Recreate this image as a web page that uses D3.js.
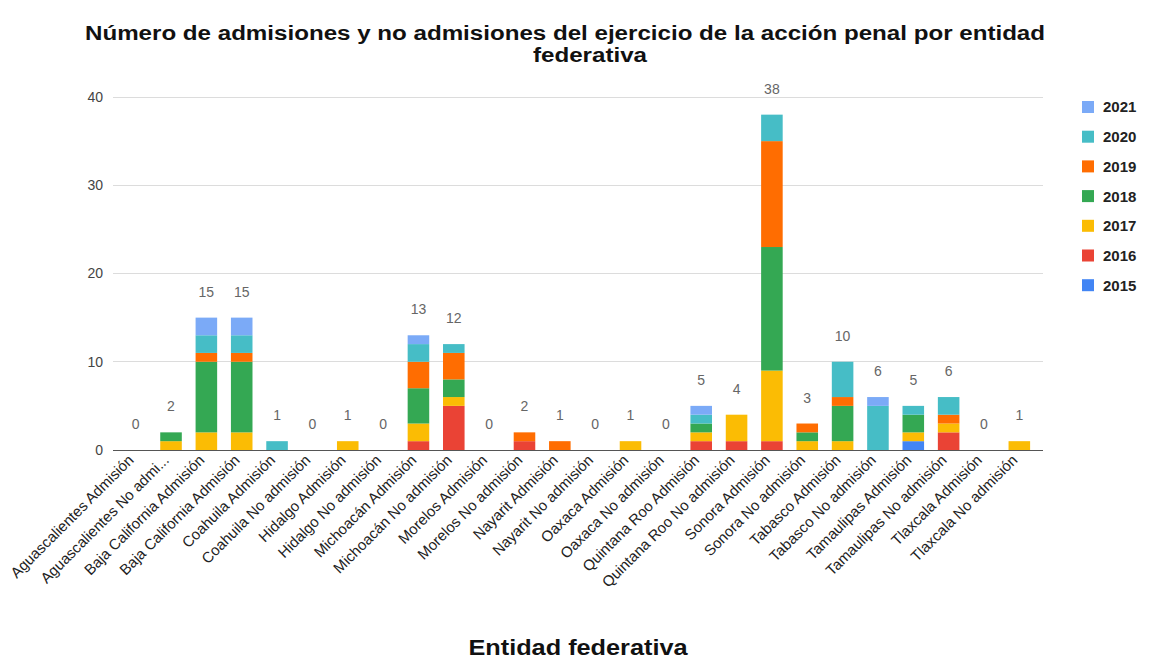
<!DOCTYPE html>
<html>
<head>
<meta charset="utf-8">
<script src="https://cdn.jsdelivr.net/npm/d3@7"></script>
<style>
  body { margin: 0; background: #fff; }
  text { font-family: Arial, "Liberation Sans", sans-serif; }
</style>
</head>
<body>
<div id="chart"></div>
<script>
/* ---------- data ---------- */
const categories = [
  'Aguascalientes Admisión', 'Aguascalientes No admi...', 'Baja California Admisión',
  'Baja California Admisión', 'Coahuila Admisión', 'Coahuila No admisión',
  'Hidalgo Admisión', 'Hidalgo No admisión', 'Michoacán Admisión',
  'Michoacán No admisión', 'Morelos Admisión', 'Morelos No admisión',
  'Nayarit Admisión', 'Nayarit No admisión', 'Oaxaca Admisión',
  'Oaxaca No admisión', 'Quintana Roo Admisión', 'Quintana Roo No admisión',
  'Sonora Admisión', 'Sonora No admisión', 'Tabasco Admisión',
  'Tabasco No admisión', 'Tamaulipas Admisión', 'Tamaulipas No admisión',
  'Tlaxcala Admisión', 'Tlaxcala No admisión'
];
const years = ['2015', '2016', '2017', '2018', '2019', '2020', '2021'];

const v2015 = [0,0,0,0,0,0,0,0,0,0,0,0,0,0,0,0,0,0,0,0,0,0,1,0,0,0];
const v2016 = [0,0,0,0,0,0,0,0,1,5,0,1,0,0,0,0,1,1,1,0,0,0,0,2,0,0];
const v2017 = [0,1,2,2,0,0,1,0,2,1,0,0,0,0,1,0,1,3,8,1,1,0,1,1,0,1];
const v2018 = [0,1,8,8,0,0,0,0,4,2,0,0,0,0,0,0,1,0,14,1,4,0,2,0,0,0];
const v2019 = [0,0,1,1,0,0,0,0,3,3,0,1,1,0,0,0,0,0,12,1,1,0,0,1,0,0];
const v2020 = [0,0,2,2,1,0,0,0,2,1,0,0,0,0,0,0,1,0,3,0,4,5,1,2,0,0];
const v2021 = [0,0,2,2,0,0,0,0,1,0,0,0,0,0,0,0,1,0,0,0,0,1,0,0,0,0];

const yTicks = [0, 10, 20, 30, 40];
const colors = ['#4285f4', '#ea4335', '#fbbc04', '#34a853', '#ff6d01', '#46bdc6', '#7baaf7'];

const titleLines = [
  'Número de admisiones y no admisiones del ejercicio de la acción penal por entidad',
  'federativa'
];
const xTitle = 'Entidad federativa';

/* ---------- setup ---------- */
const W = 1149, H = 661;
const svg = d3.select('#chart').append('svg').attr('width', W).attr('height', H);

const series = [v2015, v2016, v2017, v2018, v2019, v2020, v2021];
const rows = categories.map((c, i) => {
  const r = { cat: c, idx: i };
  years.forEach((y, k) => (r[y] = series[k][i]));
  return r;
});

const x = d3.scaleBand()
  .domain(d3.range(categories.length))
  .range([118, 1037])
  .paddingInner(0.39)
  .paddingOuter(0.195);

const y = d3.scaleLinear().domain([0, 40]).range([450, 97]);

/* ---------- grid ---------- */
svg.append('g')
  .selectAll('line')
  .data(yTicks)
  .enter()
  .append('line')
  .attr('x1', 113)
  .attr('x2', 1043)
  .attr('y1', (d) => y(d))
  .attr('y2', (d) => y(d))
  .attr('stroke', (d) => (d === 0 ? '#555' : '#dcdcdc'))
  .attr('stroke-width', 1)
  .attr('shape-rendering', 'crispEdges');

svg.append('g')
  .selectAll('text')
  .data(yTicks)
  .enter()
  .append('text')
  .attr('x', 103)
  .attr('y', (d) => y(d))
  .attr('dy', '0.35em')
  .attr('text-anchor', 'end')
  .attr('font-size', 14)
  .attr('fill', '#444')
  .text((d) => d);

/* ---------- bars ---------- */
const stack = d3.stack().keys(years)(rows);

const barLayer = svg.append('g');
stack.forEach((layer, k) => {
  barLayer.append('g')
    .attr('fill', colors[k])
    .selectAll('rect')
    .data(layer.filter((d) => d[1] - d[0] > 0))
    .enter()
    .append('rect')
    .attr('x', (d) => x(d.data.idx))
    .attr('width', x.bandwidth())
    .attr('y', (d) => y(d[1]))
    .attr('height', (d) => y(d[0]) - y(d[1]));
});

/* totals */
svg.append('g')
  .selectAll('text')
  .data(rows)
  .enter()
  .append('text')
  .attr('x', (d) => x(d.idx) + x.bandwidth() / 2)
  .attr('y', (d) => y(d3.sum(years, (yr) => d[yr])) - 21)
  .attr('text-anchor', 'middle')
  .attr('font-size', 14)
  .attr('fill', '#666')
  .text((d) => d3.sum(years, (yr) => d[yr]));

/* ---------- x labels ---------- */
svg.append('g')
  .selectAll('text')
  .data(rows)
  .enter()
  .append('text')
  .attr('transform', (d) => `translate(${x(d.idx) + x.bandwidth() / 2 - 1},${461}) rotate(-45)`)
  .attr('text-anchor', 'end')
  .attr('font-size', 15)
  .attr('fill', '#222')
  .text((d) => d.cat);

/* ---------- titles ---------- */
svg.append('text')
  .attr('transform', 'translate(565,40) scale(1.15,1)')
  .attr('text-anchor', 'middle')
  .attr('font-size', 21)
  .attr('font-weight', 'bold')
  .attr('fill', '#111')
  .text(titleLines[0]);
svg.append('text')
  .attr('transform', 'translate(590,62) scale(1.15,1)')
  .attr('text-anchor', 'middle')
  .attr('font-size', 21)
  .attr('font-weight', 'bold')
  .attr('fill', '#111')
  .text(titleLines[1]);

svg.append('text')
  .attr('transform', 'translate(578,655) scale(1.15,1)')
  .attr('text-anchor', 'middle')
  .attr('font-size', 22)
  .attr('font-weight', 'bold')
  .attr('fill', '#111')
  .text(xTitle);

/* ---------- legend ---------- */
const legendYears = years.slice().reverse();
const legendColors = colors.slice().reverse();
const lg = svg.append('g').selectAll('g')
  .data(legendYears)
  .enter()
  .append('g')
  .attr('transform', (d, i) => `translate(1082,${107 + i * 29.7})`);
lg.append('rect')
  .attr('x', 0)
  .attr('y', -6)
  .attr('width', 12)
  .attr('height', 12)
  .attr('fill', (d, i) => legendColors[i]);
lg.append('text')
  .attr('x', 21)
  .attr('dy', '0.36em')
  .attr('font-size', 15)
  .attr('font-weight', 'bold')
  .attr('fill', '#222')
  .text((d) => d);
</script>
</body>
</html>
